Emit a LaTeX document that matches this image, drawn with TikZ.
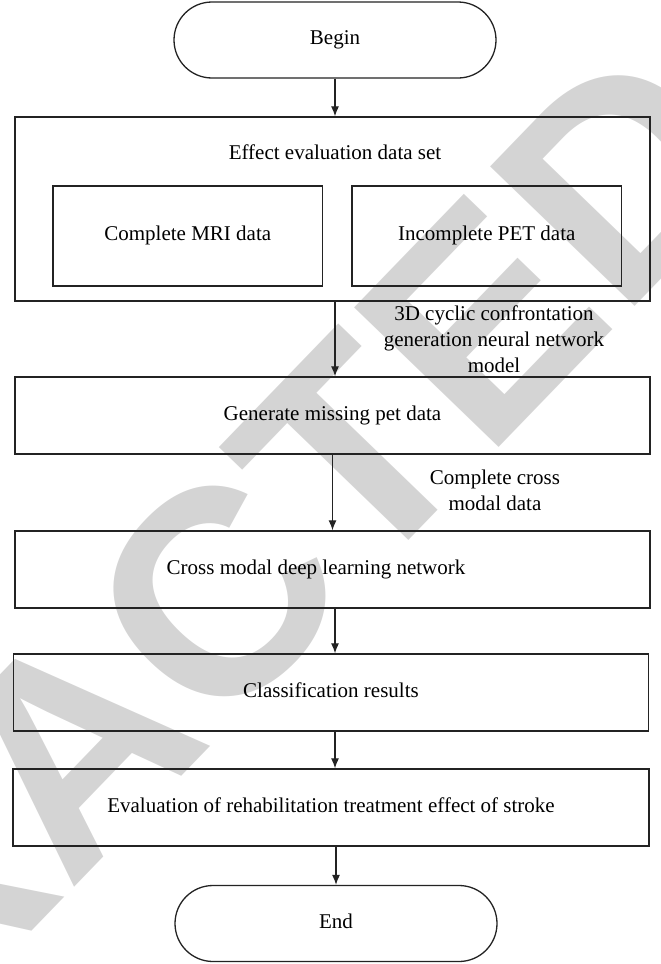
\documentclass[tikz,border=0pt]{standalone}
\usepackage{fontspec}
\setmainfont{Liberation Serif}
\newfontfamily\wmfont{Liberation Sans}
\usetikzlibrary{arrows.meta}
\definecolor{wm}{RGB}{212,212,212}
\definecolor{ln}{RGB}{35,35,35}
\begin{document}
\begin{tikzpicture}[x=1pt,y=-1pt,
  font=\fontsize{21}{26}\selectfont,
  box/.style={draw=ln, line width=1.3pt, inner sep=0, text height=14pt, text depth=5pt},
  term/.style={box, rounded corners=38pt},
  arr/.style={draw=ln, line width=1.2pt, -{Latex[length=10pt,width=8pt]}},
  lbl/.style={align=center, inner sep=0}]
\useasboundingbox (0,0) rectangle (661,964);
\begin{scope}
\clip (0,0) rectangle (661,964);
\node[font=\wmfont\bfseries\fontsize{292}{292}\selectfont, text=wm, rotate=46, inner sep=0] (wmark) at (70,747) {RETRACTED};
\end{scope}
\node[term, minimum width=322pt, minimum height=76pt] (begin) at (335,40) {Begin};
\node[box, minimum width=635pt, minimum height=184pt] (data) at (332.5,209) {};
\node[inner sep=0, text height=14pt, text depth=5pt] (datat) at (335,155) {Effect evaluation data set};
\node[box, minimum width=269.5pt, minimum height=100pt] (mri) at (187.75,236) {Complete MRI data};
\node[box, minimum width=269.5pt, minimum height=100pt] (pet) at (486.75,236) {Incomplete PET data};
\node[box, minimum width=635pt, minimum height=77pt] (gen) at (332.5,415.5) {Generate missing pet data};
\node[box, minimum width=635pt, minimum height=77pt] (cross) at (332.5,569.5) {\hspace*{-33pt}Cross modal deep learning network};
\node[box, minimum width=635pt, minimum height=77pt] (cls) at (331,692.5) {Classification results};
\node[box, minimum width=636pt, minimum height=77pt] (eval) at (331,807.5) {Evaluation of rehabilitation treatment effect of stroke};
\node[term, minimum width=322pt, minimum height=76pt] (end) at (336,923.5) {End};
\node[lbl] (l1) at (494,339) {3D cyclic confrontation\\generation neural network\\model};
\node[lbl] (l2) at (495,490) {Complete cross\\modal data};
\draw[arr] (begin.south) -- (data.north -| begin.south);
\draw[arr] (data.south -| begin.south) -- (gen.north -| begin.south);
\draw[arr] (gen.south) -- (cross.north);
\draw[arr] (cross.south -| begin.south) -- (cls.north -| begin.south);
\draw[arr] (cls.south -| begin.south) -- (eval.north -| begin.south);
\draw[arr] (eval.south -| end.north) -- (end.north);
\end{tikzpicture}
\end{document}
